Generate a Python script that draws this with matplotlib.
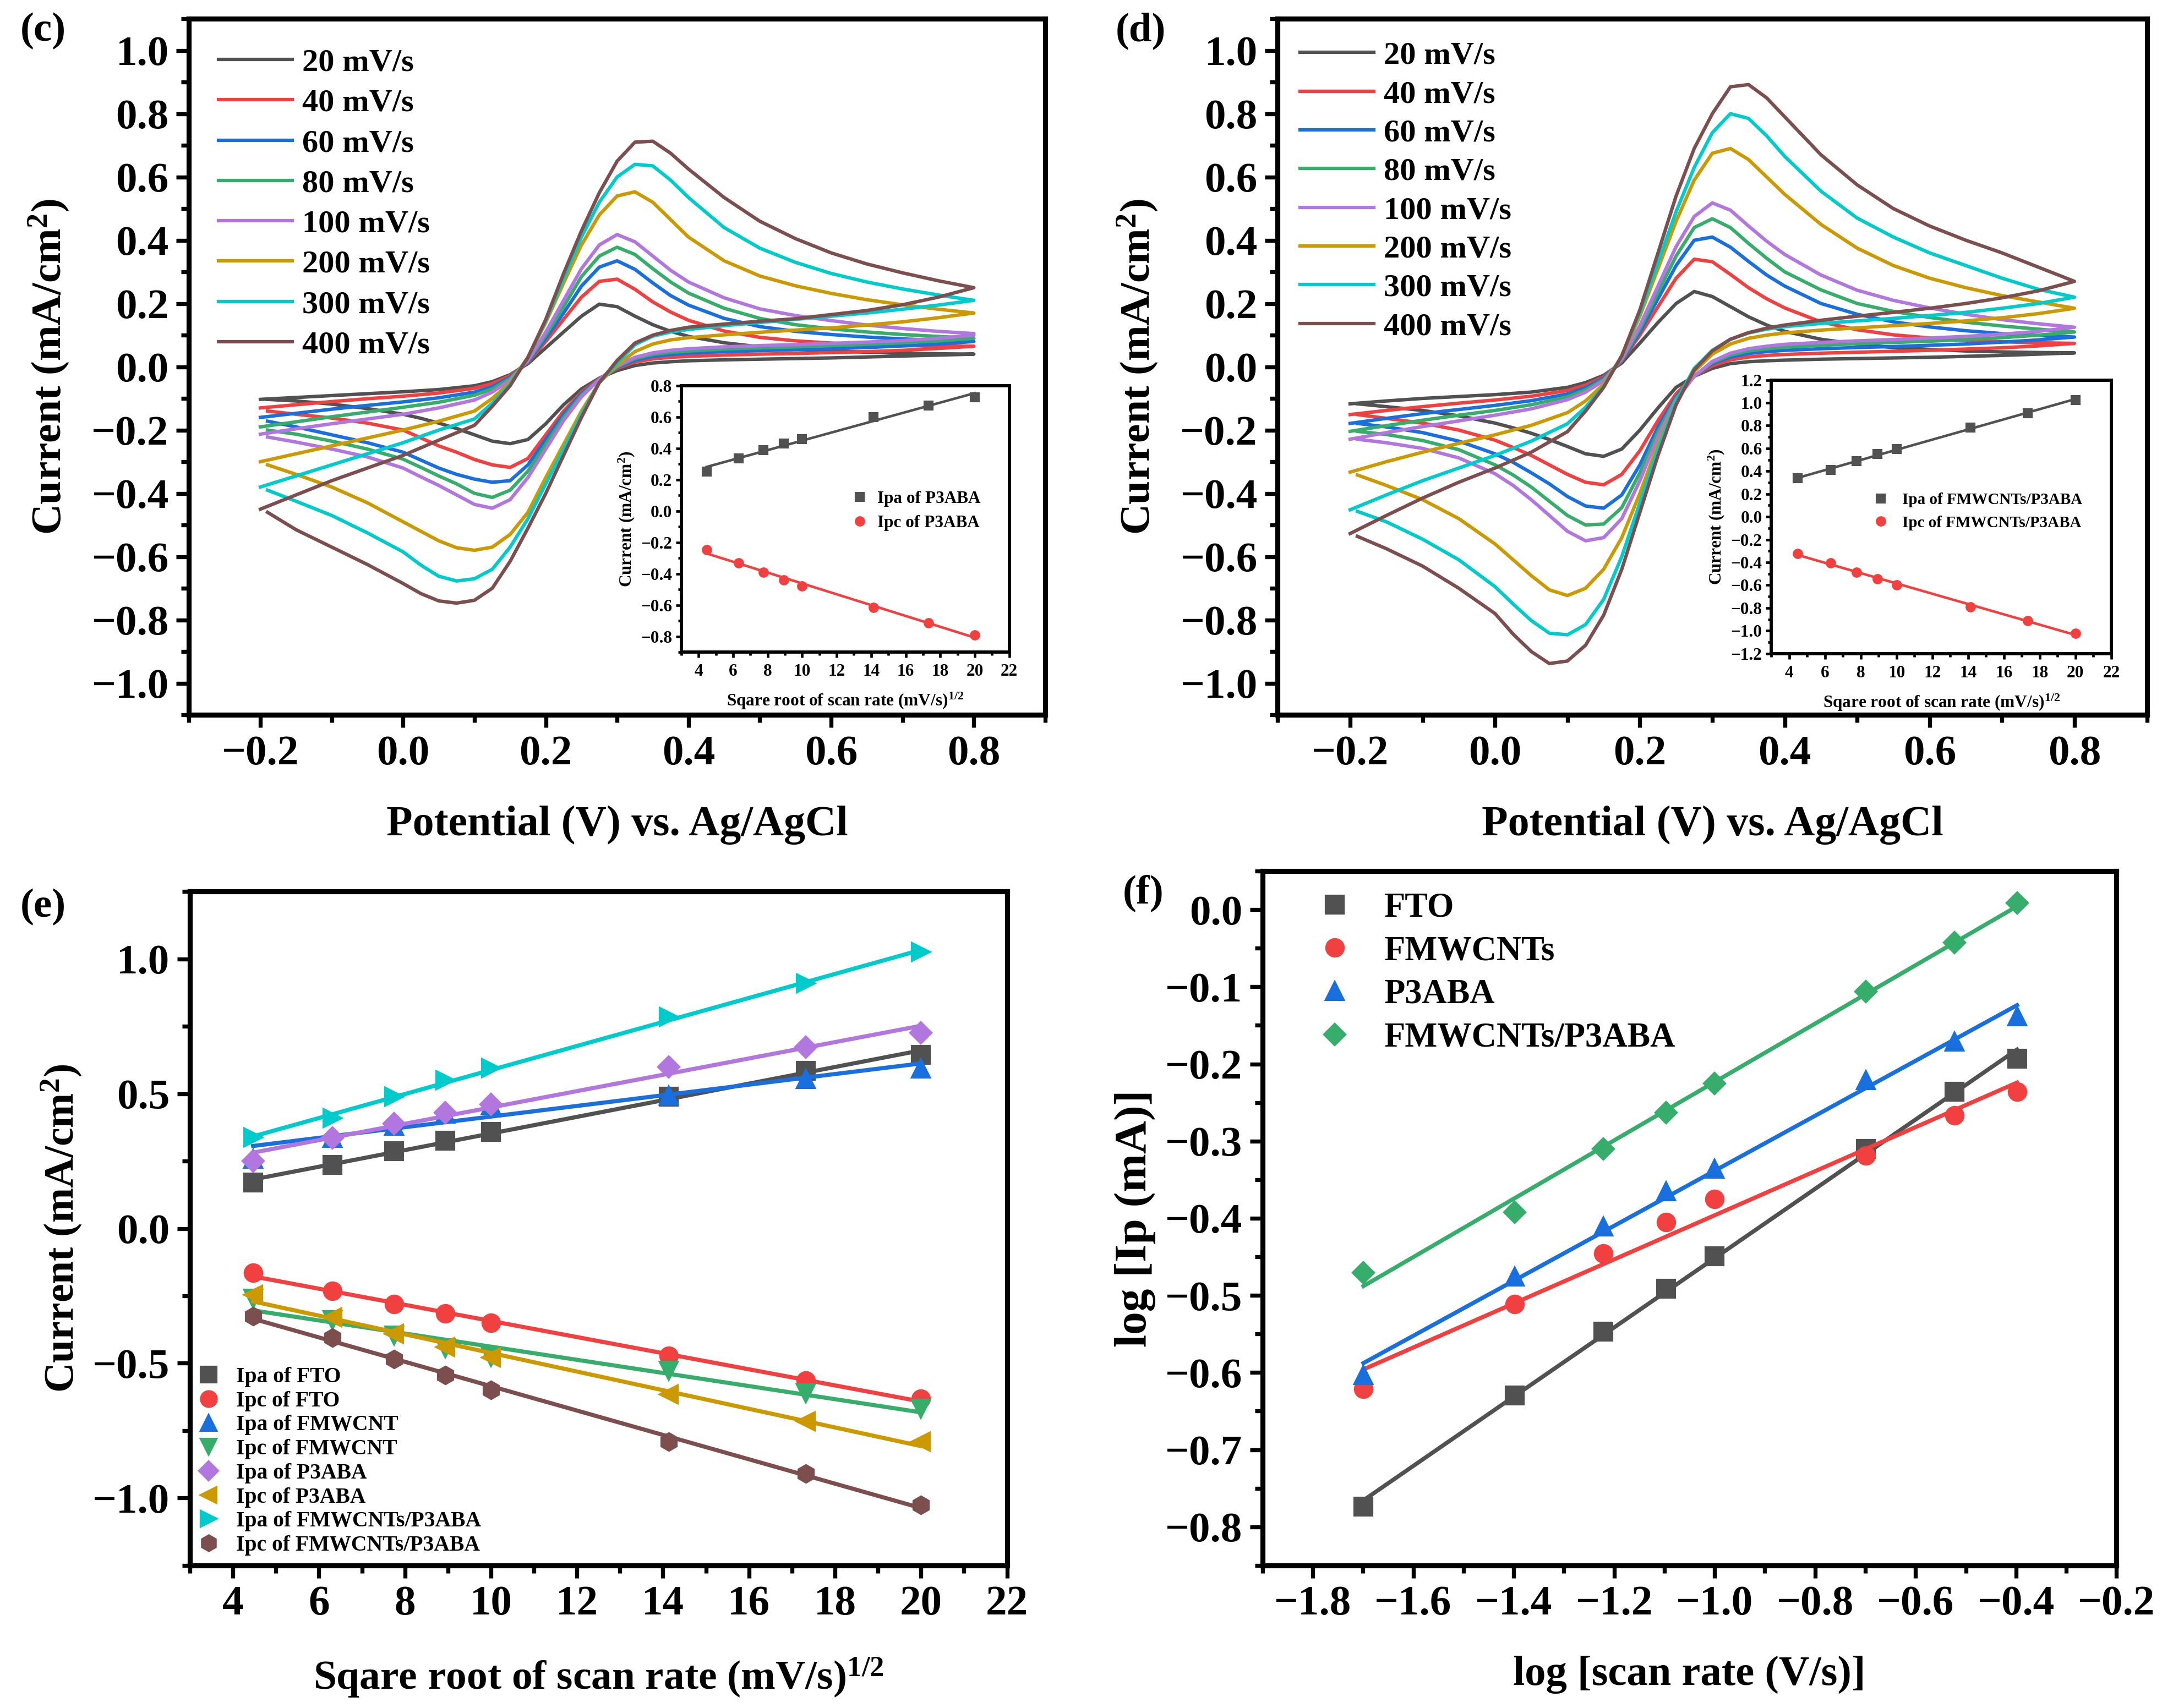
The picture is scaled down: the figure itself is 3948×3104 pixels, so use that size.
import numpy as np
import matplotlib
matplotlib.use("Agg")
import matplotlib.pyplot as plt
from matplotlib.ticker import FixedLocator

plt.rcParams["font.family"] = ["Liberation Serif", "DejaVu Serif"]
plt.rcParams["font.weight"] = "bold"
plt.rcParams["axes.labelweight"] = "bold"
plt.rcParams["mathtext.fontset"] = "custom"
plt.rcParams["mathtext.rm"] = "Liberation Serif:bold"
plt.rcParams["mathtext.bf"] = "Liberation Serif:bold"
plt.rcParams["mathtext.it"] = "Liberation Serif:bold:italic"

# ---------------- data ----------------
scan_labels = ["20 mV/s", "40 mV/s", "60 mV/s", "80 mV/s",
               "100 mV/s", "200 mV/s", "300 mV/s", "400 mV/s"]
colors = ["#515151", "#F14040", "#1A6FDF", "#37AD6B",
          "#B177DE", "#CC9900", "#00CBCC", "#7D4E4E"]

# potential grids (V) for anodic (forward) and cathodic (reverse) sweeps
pot_fwd = [-0.2, -0.15, -0.1, -0.05, 0.0, 0.05, 0.1, 0.125, 0.15, 0.175, 0.2, 0.225,
           0.25, 0.275, 0.3, 0.325, 0.35, 0.375, 0.4, 0.45, 0.5, 0.55, 0.6, 0.65, 0.7, 0.75, 0.8]
pot_rev = [0.8, 0.75, 0.7, 0.65, 0.6, 0.55, 0.5, 0.45, 0.4, 0.375, 0.35, 0.325, 0.3, 0.275,
           0.25, 0.225, 0.2, 0.175, 0.15, 0.125, 0.1, 0.075, 0.05, 0.025, 0.0, -0.05, -0.1, -0.15, -0.19]

# (c) P3ABA, current density mA/cm2
c_fwd_20 = [-0.103, -0.097, -0.091, -0.085, -0.079, -0.072, -0.06, -0.047, -0.025, 0.01, 0.06, 0.11, 0.16, 0.198, 0.19, 0.16, 0.133, 0.112, 0.096, 0.076, 0.063, 0.055, 0.05, 0.046, 0.043, 0.041, 0.04]
c_fwd_40 = [-0.13, -0.12, -0.11, -0.101, -0.093, -0.083, -0.068, -0.053, -0.028, 0.014, 0.08, 0.15, 0.22, 0.27, 0.277, 0.245, 0.205, 0.173, 0.147, 0.113, 0.093, 0.082, 0.075, 0.07, 0.067, 0.066, 0.065]
c_fwd_60 = [-0.16, -0.147, -0.134, -0.122, -0.111, -0.098, -0.08, -0.063, -0.033, 0.016, 0.09, 0.17, 0.255, 0.315, 0.335, 0.308, 0.265, 0.225, 0.195, 0.153, 0.127, 0.112, 0.102, 0.094, 0.088, 0.084, 0.08]
c_fwd_80 = [-0.19, -0.174, -0.158, -0.143, -0.128, -0.112, -0.09, -0.07, -0.037, 0.018, 0.1, 0.19, 0.285, 0.35, 0.378, 0.355, 0.31, 0.268, 0.233, 0.185, 0.153, 0.133, 0.12, 0.11, 0.102, 0.096, 0.09]
c_fwd_100 = [-0.213, -0.196, -0.18, -0.165, -0.15, -0.13, -0.105, -0.08, -0.042, 0.02, 0.11, 0.21, 0.31, 0.385, 0.418, 0.395, 0.35, 0.305, 0.268, 0.218, 0.183, 0.162, 0.146, 0.132, 0.121, 0.112, 0.105]
c_fwd_200 = [-0.3, -0.275, -0.25, -0.225, -0.2, -0.172, -0.14, -0.1, -0.05, 0.03, 0.14, 0.265, 0.385, 0.48, 0.54, 0.553, 0.52, 0.465, 0.41, 0.335, 0.287, 0.256, 0.232, 0.212, 0.196, 0.182, 0.17]
c_fwd_300 = [-0.38, -0.345, -0.31, -0.275, -0.24, -0.2, -0.165, -0.115, -0.055, 0.03, 0.145, 0.28, 0.41, 0.52, 0.6, 0.64, 0.635, 0.59, 0.535, 0.44, 0.375, 0.33, 0.295, 0.268, 0.246, 0.227, 0.21]
c_fwd_400 = [-0.45, -0.405, -0.36, -0.32, -0.28, -0.232, -0.185, -0.125, -0.06, 0.03, 0.15, 0.295, 0.43, 0.55, 0.65, 0.71, 0.713, 0.675, 0.625, 0.535, 0.46, 0.405, 0.36, 0.325, 0.297, 0.272, 0.25]

c_rev_20 = [0.04, 0.037, 0.034, 0.031, 0.028, 0.026, 0.024, 0.022, 0.019, 0.016, 0.012, 0.004, -0.012, -0.036, -0.07, -0.12, -0.18, -0.23, -0.243, -0.235, -0.215, -0.195, -0.178, -0.163, -0.15, -0.132, -0.118, -0.108, -0.103]
c_rev_40 = [0.065, 0.058, 0.052, 0.048, 0.045, 0.042, 0.04, 0.037, 0.033, 0.03, 0.025, 0.015, -0.005, -0.038, -0.08, -0.14, -0.215, -0.29, -0.318, -0.31, -0.293, -0.27, -0.25, -0.225, -0.2, -0.178, -0.162, -0.15, -0.14]
c_rev_60 = [0.08, 0.072, 0.066, 0.061, 0.057, 0.054, 0.051, 0.048, 0.043, 0.039, 0.033, 0.021, -0.002, -0.04, -0.085, -0.15, -0.23, -0.31, -0.36, -0.365, -0.355, -0.34, -0.32, -0.295, -0.27, -0.24, -0.215, -0.19, -0.172]
c_rev_80 = [0.09, 0.082, 0.076, 0.071, 0.067, 0.063, 0.06, 0.056, 0.05, 0.046, 0.039, 0.026, 0.0, -0.04, -0.09, -0.16, -0.245, -0.33, -0.39, -0.413, -0.4, -0.37, -0.345, -0.318, -0.292, -0.26, -0.235, -0.213, -0.2]
c_rev_100 = [0.1, 0.09, 0.083, 0.078, 0.074, 0.07, 0.067, 0.063, 0.057, 0.052, 0.044, 0.03, 0.002, -0.04, -0.095, -0.17, -0.26, -0.35, -0.42, -0.447, -0.435, -0.405, -0.375, -0.348, -0.32, -0.285, -0.26, -0.238, -0.222]
c_rev_200 = [0.17, 0.155, 0.142, 0.132, 0.123, 0.116, 0.109, 0.101, 0.092, 0.085, 0.072, 0.048, 0.005, -0.05, -0.14, -0.245, -0.35, -0.46, -0.53, -0.57, -0.58, -0.572, -0.55, -0.52, -0.49, -0.43, -0.38, -0.34, -0.31]
c_rev_300 = [0.21, 0.195, 0.182, 0.17, 0.16, 0.15, 0.14, 0.13, 0.118, 0.11, 0.097, 0.07, 0.012, -0.05, -0.15, -0.26, -0.37, -0.48, -0.57, -0.64, -0.67, -0.677, -0.662, -0.627, -0.585, -0.525, -0.47, -0.425, -0.39]
c_rev_400 = [0.25, 0.22, 0.196, 0.178, 0.165, 0.152, 0.144, 0.135, 0.125, 0.115, 0.1, 0.075, 0.02, -0.05, -0.16, -0.28, -0.4, -0.51, -0.615, -0.7, -0.738, -0.747, -0.74, -0.717, -0.685, -0.625, -0.57, -0.515, -0.46]

# (d) FMWCNTs/P3ABA
d_fwd_20 = [-0.117, -0.108, -0.1, -0.094, -0.088, -0.08, -0.065, -0.05, -0.027, 0.012, 0.075, 0.14, 0.2, 0.238, 0.222, 0.19, 0.158, 0.132, 0.112, 0.087, 0.071, 0.061, 0.055, 0.05, 0.047, 0.045, 0.044]
d_fwd_40 = [-0.151, -0.138, -0.126, -0.115, -0.105, -0.093, -0.075, -0.058, -0.032, 0.018, 0.1, 0.19, 0.28, 0.34, 0.332, 0.292, 0.25, 0.215, 0.186, 0.142, 0.117, 0.101, 0.091, 0.084, 0.079, 0.076, 0.074]
d_fwd_60 = [-0.179, -0.163, -0.148, -0.135, -0.122, -0.107, -0.086, -0.066, -0.036, 0.02, 0.11, 0.215, 0.32, 0.4, 0.41, 0.378, 0.333, 0.29, 0.255, 0.2, 0.166, 0.142, 0.126, 0.114, 0.105, 0.099, 0.094]
d_fwd_80 = [-0.204, -0.186, -0.169, -0.153, -0.138, -0.12, -0.095, -0.073, -0.04, 0.022, 0.12, 0.235, 0.35, 0.44, 0.468, 0.44, 0.39, 0.343, 0.3, 0.243, 0.2, 0.175, 0.156, 0.141, 0.129, 0.119, 0.11]
d_fwd_100 = [-0.229, -0.208, -0.189, -0.171, -0.153, -0.133, -0.104, -0.08, -0.044, 0.025, 0.13, 0.255, 0.38, 0.475, 0.518, 0.495, 0.445, 0.397, 0.355, 0.29, 0.242, 0.21, 0.186, 0.166, 0.149, 0.136, 0.125]
d_fwd_200 = [-0.333, -0.3, -0.27, -0.242, -0.215, -0.185, -0.145, -0.108, -0.055, 0.033, 0.16, 0.31, 0.46, 0.59, 0.675, 0.69, 0.655, 0.6, 0.545, 0.45, 0.375, 0.32, 0.28, 0.25, 0.225, 0.205, 0.185]
d_fwd_300 = [-0.452, -0.405, -0.36, -0.32, -0.28, -0.235, -0.18, -0.128, -0.062, 0.035, 0.17, 0.33, 0.49, 0.63, 0.74, 0.8, 0.785, 0.73, 0.665, 0.555, 0.47, 0.41, 0.36, 0.32, 0.28, 0.245, 0.22]
d_fwd_400 = [-0.527, -0.47, -0.415, -0.365, -0.32, -0.27, -0.205, -0.14, -0.065, 0.035, 0.18, 0.36, 0.54, 0.69, 0.8, 0.885, 0.892, 0.85, 0.79, 0.67, 0.575, 0.5, 0.445, 0.4, 0.36, 0.315, 0.27]

d_rev_20 = [0.044, 0.04, 0.036, 0.033, 0.03, 0.028, 0.026, 0.024, 0.021, 0.019, 0.016, 0.01, -0.005, -0.03, -0.065, -0.13, -0.2, -0.26, -0.283, -0.275, -0.252, -0.23, -0.21, -0.193, -0.178, -0.155, -0.138, -0.126, -0.117]
d_rev_40 = [0.074, 0.066, 0.06, 0.056, 0.052, 0.049, 0.046, 0.043, 0.039, 0.036, 0.031, 0.022, 0.003, -0.03, -0.085, -0.17, -0.265, -0.34, -0.373, -0.365, -0.34, -0.31, -0.28, -0.255, -0.232, -0.2, -0.178, -0.163, -0.151]
d_rev_60 = [0.094, 0.085, 0.078, 0.072, 0.068, 0.064, 0.061, 0.057, 0.052, 0.048, 0.042, 0.031, 0.01, -0.03, -0.095, -0.19, -0.31, -0.405, -0.447, -0.44, -0.41, -0.37, -0.335, -0.302, -0.275, -0.235, -0.208, -0.19, -0.179]
d_rev_80 = [0.11, 0.1, 0.092, 0.086, 0.081, 0.077, 0.073, 0.068, 0.062, 0.057, 0.05, 0.037, 0.014, -0.03, -0.1, -0.205, -0.335, -0.445, -0.497, -0.5, -0.47, -0.425, -0.38, -0.342, -0.31, -0.262, -0.233, -0.214, -0.204]
d_rev_100 = [0.125, 0.112, 0.103, 0.096, 0.091, 0.086, 0.082, 0.077, 0.071, 0.065, 0.057, 0.043, 0.017, -0.03, -0.105, -0.22, -0.36, -0.48, -0.54, -0.55, -0.52, -0.47, -0.42, -0.375, -0.338, -0.288, -0.258, -0.24, -0.229]
d_rev_200 = [0.185, 0.168, 0.155, 0.145, 0.137, 0.13, 0.123, 0.116, 0.107, 0.1, 0.09, 0.072, 0.04, -0.015, -0.11, -0.245, -0.4, -0.54, -0.64, -0.7, -0.723, -0.705, -0.66, -0.61, -0.56, -0.48, -0.42, -0.375, -0.342]
d_rev_300 = [0.22, 0.2, 0.185, 0.172, 0.162, 0.153, 0.145, 0.137, 0.127, 0.119, 0.107, 0.087, 0.052, -0.005, -0.11, -0.26, -0.43, -0.6, -0.735, -0.815, -0.847, -0.842, -0.802, -0.75, -0.695, -0.61, -0.545, -0.49, -0.457]
d_rev_400 = [0.27, 0.24, 0.218, 0.2, 0.185, 0.172, 0.16, 0.147, 0.132, 0.122, 0.108, 0.087, 0.05, -0.01, -0.12, -0.28, -0.46, -0.64, -0.785, -0.88, -0.93, -0.938, -0.9, -0.845, -0.78, -0.7, -0.63, -0.575, -0.536]

# (e) peak currents vs square root of scan rate
sqrt_rate = [4.47, 6.32, 7.75, 8.94, 10.0, 14.14, 17.32, 20.0]
ipa_fto = [0.17, 0.235, 0.287, 0.325, 0.358, 0.49, 0.585, 0.645]
ipc_fto = [-0.165, -0.232, -0.28, -0.316, -0.35, -0.473, -0.564, -0.632]
ipa_fmwcnt = [0.258, 0.335, 0.38, 0.425, 0.459, 0.493, 0.554, 0.594]
ipc_fmwcnt = [-0.26, -0.34, -0.397, -0.443, -0.477, -0.528, -0.612, -0.669]
ipa_p3aba = [0.25, 0.335, 0.39, 0.43, 0.46, 0.6, 0.673, 0.725]
ipc_p3aba = [-0.245, -0.33, -0.39, -0.44, -0.478, -0.615, -0.715, -0.79]
ipa_comp = [0.337, 0.41, 0.49, 0.55, 0.595, 0.785, 0.91, 1.025]
ipc_comp = [-0.325, -0.405, -0.485, -0.545, -0.6, -0.79, -0.91, -1.025]

# (f) log peak current vs log scan rate
log_rate = [-1.699, -1.398, -1.222, -1.097, -1.0, -0.699, -0.523, -0.398]
log_fto = [-0.774, -0.63, -0.547, -0.491, -0.449, -0.31, -0.236, -0.193]
log_fmwcnts = [-0.621, -0.511, -0.446, -0.405, -0.375, -0.319, -0.267, -0.236]
log_p3aba = [-0.603, -0.476, -0.411, -0.365, -0.336, -0.221, -0.171, -0.138]
log_comp = [-0.471, -0.392, -0.31, -0.263, -0.225, -0.106, -0.043, 0.009]


def ticks_in(lo, hi, step):
    # tick positions that fall inside the axis limits only
    start = np.ceil(lo / step - 1e-9) * step
    vals = np.round(np.arange(start, hi + step * 1e-6, step), 6)
    return vals + 0.0


def fmt1(v, pos=None):
    if abs(v) < 1e-9:
        v = 0.0
    return f"{v:.1f}".replace("-", "\u2212")


def fmt0(v, pos=None):
    return f"{v:.0f}"


def style_axes(ax, xlim, ylim, xmaj, xmin, ymaj, ymin, size=18.5, lw=2.2, tlen=5.5, xpad=None):
    ax.set_xlim(*xlim)
    ax.set_ylim(*ylim)
    for s in ax.spines.values():
        s.set_linewidth(lw)
    ax.xaxis.set_major_locator(FixedLocator(ticks_in(xlim[0], xlim[1], xmaj)))
    ax.xaxis.set_minor_locator(FixedLocator(ticks_in(xlim[0], xlim[1], xmin)))
    ax.yaxis.set_major_locator(FixedLocator(ticks_in(ylim[0], ylim[1], ymaj)))
    ax.yaxis.set_minor_locator(FixedLocator(ticks_in(ylim[0], ylim[1], ymin)))
    ax.tick_params(which="both", direction="out", top=False, right=False,
                   labelsize=size, width=lw * 0.8)
    ax.tick_params(which="major", length=tlen, pad=tlen * 0.6)
    ax.tick_params(which="minor", length=tlen * 0.6)
    if xpad is not None:
        ax.tick_params(axis="x", which="major", pad=xpad)


def draw_cv(ax, fwd, rev, spacing, axpad):
    for f, r, c, lab in zip(fwd, rev, colors, scan_labels):
        ax.plot(pot_fwd + pot_rev, f + r, color=c, lw=1.5, label=lab)
    style_axes(ax, (-0.3, 0.9), (-1.1, 1.1), 0.2, 0.1, 0.2, 0.1)
    ax.xaxis.set_major_formatter(fmt1)
    ax.yaxis.set_major_formatter(fmt1)
    ax.set_xlabel("Potential (V) vs. Ag/AgCl", fontsize=18.7, labelpad=14)
    ax.set_ylabel("Current (mA/cm$^{2}$)", fontsize=18.6, labelpad=9)
    ax.legend(loc="upper left", frameon=False, fontsize=14, handlelength=2.3,
              handletextpad=0.3, labelspacing=spacing, borderaxespad=axpad)


def draw_inset(ax, rect, ipa, ipc, name, ylim, leg_anchor, leg_size, leg_pad):
    ins = ax.inset_axes(rect)
    ins.set_facecolor("white")
    x = np.array(sqrt_rate)
    for vals, mk, c, lab in [(ipa, "s", colors[0], "Ipa of " + name),
                             (ipc, "o", colors[1], "Ipc of " + name)]:
        k, b = np.polyfit(x, vals, 1)
        ins.plot([x[0], x[-1]], [k * x[0] + b, k * x[-1] + b], color=c, lw=1.1)
        ins.plot(x, vals, mk, color=c, ms=3.5, label=lab)
    style_axes(ins, (3, 22), ylim, 2, 1, 0.2, 0.1, size=7.5, lw=1.4, tlen=2.5, xpad=2.5)
    ins.xaxis.set_major_formatter(fmt0)
    ins.yaxis.set_major_formatter(fmt1)
    ins.set_xlabel("Sqare root of scan rate (mV/s)$^{1/2}$", fontsize=7.5, labelpad=5)
    ins.set_ylabel("Current (mA/cm$^{2}$)", fontsize=7.5, labelpad=2)
    ins.legend(loc="center left", bbox_to_anchor=leg_anchor, frameon=False,
               fontsize=leg_size, handletextpad=leg_pad, labelspacing=0.5, handlelength=1.0)


fig = plt.figure(figsize=(13.16, 10.3467), dpi=300)

# (c)
ax_c = fig.add_axes([0.087, 0.5815, 0.394, 0.4075])
draw_cv(ax_c, [c_fwd_20, c_fwd_40, c_fwd_60, c_fwd_80, c_fwd_100, c_fwd_200, c_fwd_300, c_fwd_400],
        [c_rev_20, c_rev_40, c_rev_60, c_rev_80, c_rev_100, c_rev_200, c_rev_300, c_rev_400],
        0.35, 0.52)
draw_inset(ax_c, [0.575, 0.09, 0.383, 0.383], ipa_p3aba, ipc_p3aba, "P3ABA",
           (-0.9, 0.8), (0.47, 0.53), 7.5, 0.55)

# (d)
ax_d = fig.add_axes([0.588, 0.5815, 0.400, 0.4075])
draw_cv(ax_d, [d_fwd_20, d_fwd_40, d_fwd_60, d_fwd_80, d_fwd_100, d_fwd_200, d_fwd_300, d_fwd_400],
        [d_rev_20, d_rev_40, d_rev_60, d_rev_80, d_rev_100, d_rev_200, d_rev_300, d_rev_400],
        0.30, 0.3)
draw_inset(ax_d, [0.568, 0.088, 0.391, 0.393], ipa_comp, ipc_comp, "FMWCNTs/P3ABA",
           (-1.2, 1.2), (0.255, 0.52), 7.0, 0.85)

# (e)
ax_e = fig.add_axes([0.0874, 0.0835, 0.376, 0.3945])
e_series = [(ipa_fto, "s", "Ipa of FTO"), (ipc_fto, "o", "Ipc of FTO"),
            (ipa_fmwcnt, "^", "Ipa of FMWCNT"), (ipc_fmwcnt, "v", "Ipc of FMWCNT"),
            (ipa_p3aba, "D", "Ipa of P3ABA"), (ipc_p3aba, "<", "Ipc of P3ABA"),
            (ipa_comp, ">", "Ipa of FMWCNTs/P3ABA"), (ipc_comp, "h", "Ipc of FMWCNTs/P3ABA")]
x = np.array(sqrt_rate)
for (vals, mk, lab), c in zip(e_series, colors):
    k, b = np.polyfit(x, vals, 1)
    ax_e.plot([x[0], x[-1]], [k * x[0] + b, k * x[-1] + b], color=c, lw=1.8)
    ax_e.plot(x, vals, mk, color=c, ms=7.5 if mk != "D" else 6.5, label=lab)
style_axes(ax_e, (3, 22), (-1.25, 1.25), 2, 1, 0.5, 0.25)
ax_e.xaxis.set_major_formatter(fmt0)
ax_e.yaxis.set_major_formatter(fmt1)
ax_e.set_xlabel("Sqare root of scan rate (mV/s)$^{1/2}$", fontsize=18.1, labelpad=14)
ax_e.set_ylabel("Current (mA/cm$^{2}$)", fontsize=18.2, labelpad=4)
ax_e.legend(loc="lower left", frameon=False, fontsize=9.5, handlelength=0.8,
            handletextpad=0.87, labelspacing=0.17, borderaxespad=0.05, markerscale=0.9)

# (f)
ax_f = fig.add_axes([0.581, 0.0835, 0.393, 0.4065])
f_series = [(log_fto, "s", "FTO"), (log_fmwcnts, "o", "FMWCNTs"),
            (log_p3aba, "^", "P3ABA"), (log_comp, "D", "FMWCNTs/P3ABA")]
xl = np.array(log_rate)
for (vals, mk, lab), c in zip(f_series, [colors[0], colors[1], colors[2], colors[3]]):
    k, b = np.polyfit(xl, vals, 1)
    ax_f.plot([xl[0], xl[-1]], [k * xl[0] + b, k * xl[-1] + b], color=c, lw=1.8)
    ax_f.plot(xl, vals, mk, color=c, ms=7.5 if mk != "D" else 6.5, label=lab)
style_axes(ax_f, (-1.9, -0.2), (-0.85, 0.05), 0.2, 0.1, 0.1, 0.05)
ax_f.xaxis.set_major_formatter(fmt1)
ax_f.yaxis.set_major_formatter(fmt1)
ax_f.set_xlabel("log [scan rate (V/s)]", fontsize=18.4, labelpad=14)
ax_f.set_ylabel("log [Ip (mA)]", fontsize=20, labelpad=4)
ax_f.legend(loc="upper left", bbox_to_anchor=(0.036, 1.004), frameon=False, fontsize=15,
            handlelength=1.0, handletextpad=0.95, labelspacing=0.33, borderaxespad=0.3)

for txt, px, py in [("(c)", 0.0198, 0.982), ("(d)", 0.525, 0.982),
                    ("(e)", 0.0198, 0.469), ("(f)", 0.526, 0.477)]:
    fig.text(px, py, txt, fontsize=18, fontweight="bold", ha="center", va="center")

fig.savefig("out.png", dpi=300)
